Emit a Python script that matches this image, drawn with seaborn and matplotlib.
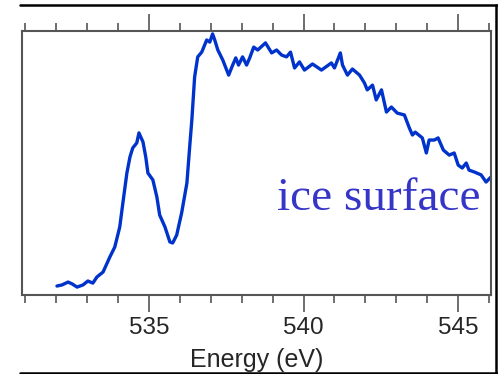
import matplotlib
matplotlib.use("Agg")
import matplotlib.pyplot as plt
from matplotlib.ticker import MultipleLocator
from matplotlib.lines import Line2D
import seaborn as sns
import pandas as pd

energy = [532.03, 532.19, 532.39, 532.52, 532.68, 532.87, 533.03, 533.19, 533.32, 533.52,
          533.74, 533.90, 534.06, 534.16, 534.29, 534.39, 534.48, 534.61, 534.68, 534.81,
          534.90, 534.97, 535.13, 535.26, 535.35, 535.52, 535.68, 535.77, 535.90, 536.06,
          536.23, 536.32, 536.39, 536.48, 536.58, 536.71, 536.87, 536.97, 537.06, 537.13,
          537.23, 537.39, 537.58, 537.71, 537.81, 537.90, 538.03, 538.16, 538.26, 538.39,
          538.52, 538.77, 538.97, 539.13, 539.29, 539.45, 539.58, 539.71, 539.87, 540.03,
          540.29, 540.58, 540.90, 541.00, 541.19, 541.26, 541.42, 541.58, 541.81, 541.97,
          542.06, 542.23, 542.35, 542.52, 542.68, 542.84, 543.03, 543.26, 543.42, 543.52,
          543.61, 543.84, 543.97, 544.06, 544.23, 544.35, 544.52, 544.71, 544.87, 545.00,
          545.13, 545.26, 545.35, 545.52, 545.74, 545.90, 546.06]
intensity = [0.034, 0.038, 0.049, 0.042, 0.030, 0.038, 0.053, 0.045, 0.068, 0.087,
             0.144, 0.182, 0.258, 0.348, 0.462, 0.523, 0.557, 0.576, 0.614, 0.580,
             0.523, 0.462, 0.436, 0.371, 0.303, 0.258, 0.201, 0.197, 0.227, 0.311,
             0.424, 0.561, 0.663, 0.826, 0.902, 0.920, 0.966, 0.958, 0.989, 0.966,
             0.928, 0.890, 0.833, 0.871, 0.898, 0.871, 0.902, 0.871, 0.898, 0.939,
             0.928, 0.955, 0.917, 0.928, 0.909, 0.902, 0.920, 0.860, 0.883, 0.852,
             0.875, 0.852, 0.879, 0.860, 0.917, 0.871, 0.833, 0.856, 0.833, 0.803,
             0.777, 0.795, 0.739, 0.777, 0.693, 0.712, 0.689, 0.682, 0.633, 0.606,
             0.617, 0.595, 0.538, 0.587, 0.587, 0.595, 0.549, 0.530, 0.538, 0.492,
             0.481, 0.500, 0.473, 0.466, 0.455, 0.428, 0.447]
major_ticks = [535, 540, 545]
tick_labels = ["535", "540", "545"]
xlabel = "Energy (eV)"
annotation = "ice surface"

sns.set_style("ticks")
plt.rcParams['font.family'] = ['Liberation Sans', 'DejaVu Sans']

df = pd.DataFrame({"Energy": energy, "Intensity": intensity})

fig = plt.figure(figsize=(4.98, 3.74), dpi=100)
ax = fig.add_axes([22/498, 1-295/374, (491-22)/498, (295-31)/374])
sns.lineplot(data=df, x="Energy", y="Intensity", ax=ax, color="#0033cc",
             linewidth=2.4, sort=False, estimator=None)

ax.set_xlim(530.9, 546.06)
ax.set_ylim(0, 1)
ax.set_yticks([])
ax.set_ylabel("")
ax.set_xticks(major_ticks)
ax.set_xticklabels(tick_labels, fontsize=17.5)
ax.xaxis.set_minor_locator(MultipleLocator(1))
ax.tick_params(axis="x", which="major", length=12, width=1.2, color="#555555",
               top=True, bottom=True, labeltop=False, pad=4)
ax.tick_params(axis="x", which="minor", length=6, width=1.2, color="#555555",
               top=True, bottom=True)
ax.set_xlabel(xlabel, fontsize=18, labelpad=6)
for s in ax.spines.values():
    s.set_visible(True)
    s.set_color("#555555")
    s.set_linewidth(1.5)

ax.text(0.977, 0.322, annotation, transform=ax.transAxes, ha="right", va="baseline",
        fontsize=34, color="#3535c8", family=["Liberation Serif", "DejaVu Serif"])

# outer frame
fig.add_artist(Line2D([20/498, 1], [1-5/374, 1-5/374], color="black", lw=1.8,
                      transform=fig.transFigure))
fig.add_artist(Line2D([20/498, 1], [1/374, 1/374], color="black", lw=1.8,
                      transform=fig.transFigure))
fig.add_artist(Line2D([496/498, 496/498], [0, 1-5/374], color="black", lw=1.8,
                      transform=fig.transFigure))

fig.savefig("out.png", dpi=100)
